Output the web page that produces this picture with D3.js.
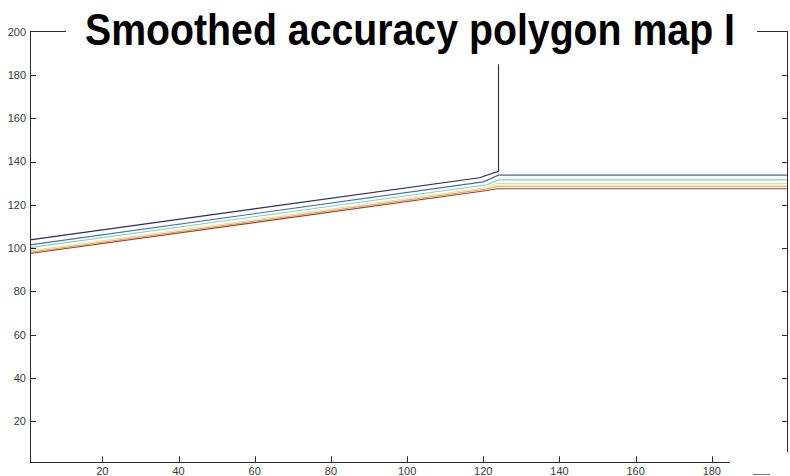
<!DOCTYPE html>
<html>
<head>
<meta charset="utf-8">
<script src="https://cdn.jsdelivr.net/npm/d3@7"></script>
<style>
  html, body { margin: 0; padding: 0; background: #fff; }
  svg { display: block; }
</style>
</head>
<body>
<svg id="chart" width="790" height="476"></svg>
<script>
// Contour levels of the smoothed accuracy polygon map, as [x, y] vertices
const xTicks = [20, 40, 60, 80, 100, 120, 140, 160, 180];
const yTicks = [20, 40, 60, 80, 100, 120, 140, 160, 180, 200];

const levelColors = ["#2b2b5e", "#4d6a9e", "#6fd6d6", "#f0dc70", "#e09a5a", "#a0402a"];

const level1 = [[1, 103.8], [119, 132.5], [124, 135.5], [124, 185]];
const level2 = [[1, 101.5], [120, 130.6], [124, 133.7], [200, 133.7]];
const level3 = [[1, 100.2], [121, 129.3], [124, 131.5], [200, 131.5]];
const level4 = [[1, 98.8], [121, 128.0], [123.5, 129.8], [200, 129.8]];
const level5 = [[1, 98.1], [121, 127.3], [123.5, 128.6], [200, 128.6]];
const level6 = [[1, 97.5], [121, 126.6], [123.5, 127.4], [200, 127.4]];
const levels = [level1, level2, level3, level4, level5, level6];

const titleText = "Smoothed accuracy polygon map I";

const svg = d3.select("#chart");
const x = d3.scaleLinear().domain([1, 200]).range([30, 788]);
const y = d3.scaleLinear().domain([1, 200]).range([462.3, 31.7]);

const axisColor = "#2a2a2a";
const labelColor = "#3a3a3a";
const tickLen = 6;

// contour lines
const line = d3.line().x(d => x(d[0])).y(d => y(d[1]));
svg.append("g")
  .selectAll("path")
  .data(levels)
  .join("path")
  .attr("d", line)
  .attr("fill", "none")
  .attr("stroke", (d, i) => levelColors[i])
  .attr("stroke-width", 1.1);

// axes frame
const frame = svg.append("g")
  .attr("stroke", axisColor)
  .attr("stroke-width", 1)
  .attr("shape-rendering", "crispEdges");

// left axis
frame.append("line")
  .attr("x1", x(1)).attr("x2", x(1))
  .attr("y1", y(200)).attr("y2", y(1));
// bottom axis (clipped at the right)
frame.append("line")
  .attr("x1", x(1)).attr("x2", 730)
  .attr("y1", y(1)).attr("y2", y(1));
// right axis (clipped at the bottom)
frame.append("line")
  .attr("x1", x(200) - 0.5).attr("x2", x(200) - 0.5)
  .attr("y1", y(200)).attr("y2", 452);
// top border, broken by the title
frame.append("line")
  .attr("x1", x(1)).attr("x2", 66)
  .attr("y1", y(200)).attr("y2", y(200));
frame.append("line")
  .attr("x1", 757).attr("x2", x(200))
  .attr("y1", y(200)).attr("y2", y(200));

// left and right ticks, left labels
const yAxisG = svg.append("g");
yAxisG.selectAll("line.tl")
  .data(yTicks.filter(v => v < 200))
  .join("line")
  .attr("class", "tl")
  .attr("x1", x(1)).attr("x2", x(1) + tickLen)
  .attr("y1", d => Math.round(y(d)) + 0.5).attr("y2", d => Math.round(y(d)) + 0.5)
  .attr("stroke", axisColor);
yAxisG.selectAll("line.tr")
  .data(yTicks.filter(v => v < 200 && y(v) < 452))
  .join("line")
  .attr("class", "tr")
  .attr("x1", x(200) - tickLen).attr("x2", x(200))
  .attr("y1", d => Math.round(y(d)) + 0.5).attr("y2", d => Math.round(y(d)) + 0.5)
  .attr("stroke", axisColor);
yAxisG.selectAll("text")
  .data(yTicks)
  .join("text")
  .attr("x", 26)
  .attr("y", d => y(d))
  .attr("dy", "0.36em")
  .attr("text-anchor", "end")
  .attr("font-family", "Liberation Sans, Arial, sans-serif")
  .attr("font-size", 11)
  .attr("fill", labelColor)
  .text(d => d);

// bottom ticks and labels
const xAxisG = svg.append("g");
xAxisG.selectAll("line")
  .data(xTicks)
  .join("line")
  .attr("x1", d => Math.round(x(d)) + 0.5).attr("x2", d => Math.round(x(d)) + 0.5)
  .attr("y1", y(1)).attr("y2", y(1) - tickLen)
  .attr("stroke", axisColor);
xAxisG.selectAll("text")
  .data(xTicks)
  .join("text")
  .attr("x", d => x(d))
  .attr("y", 475)
  .attr("text-anchor", "middle")
  .attr("font-family", "Liberation Sans, Arial, sans-serif")
  .attr("font-size", 11)
  .attr("fill", labelColor)
  .text(d => d);

// small frame fragment at the lower right corner
svg.append("line")
  .attr("x1", 753).attr("x2", 770)
  .attr("y1", 474.5).attr("y2", 474.5)
  .attr("stroke", "#777")
  .attr("stroke-width", 1);

// title
svg.append("text")
  .attr("x", 85)
  .attr("y", 45)
  .attr("font-family", "Liberation Sans, Arial, sans-serif")
  .attr("font-weight", "bold")
  .attr("font-size", 45)
  .attr("fill", "#000")
  .attr("textLength", 650)
  .attr("lengthAdjust", "spacingAndGlyphs")
  .text(titleText);
</script>
</body>
</html>
